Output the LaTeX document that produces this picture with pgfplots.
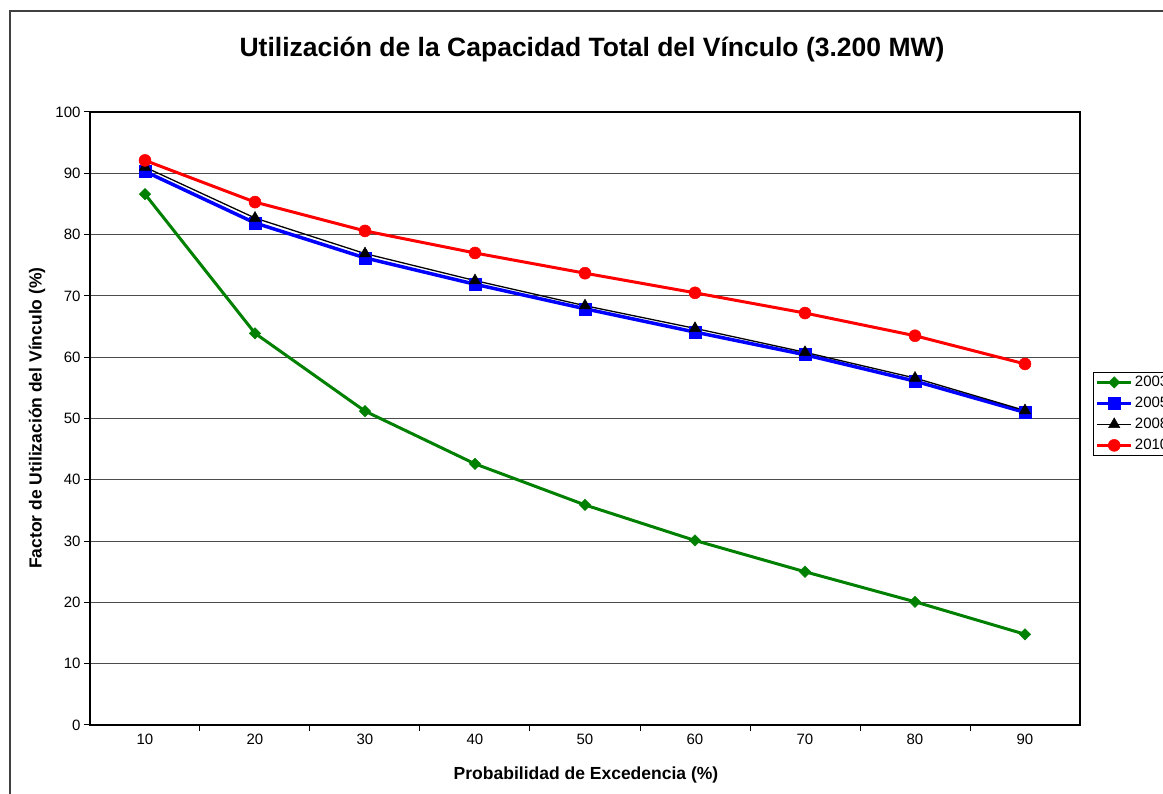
\documentclass[border=0pt]{standalone}
\usepackage{fontspec}
\setmainfont{Liberation Sans}
\usepackage{pgfplots}
\pgfplotsset{compat=1.18}
\definecolor{cgreen}{RGB}{0,128,0}
\definecolor{cblue}{RGB}{0,0,255}
\definecolor{cred}{RGB}{255,0,0}
\begin{document}
\begin{tikzpicture}[x=1pt,y=1pt]
\useasboundingbox (0,0) rectangle (1163,794);
\clip (0,0) rectangle (1163,794);
\fill[white] (0,0) rectangle (1163,794);
\draw[line width=1.5pt, black!75] (10,783) rectangle (1200,-20);
\node[font=\fontsize{26.5}{30}\selectfont\bfseries] at (592,744) {Utilización de la Capacidad Total del Vínculo (3.200 MW)};
\node[font=\fontsize{17.5}{21}\selectfont\bfseries] at (586,19) {Probabilidad de Excedencia (\%)};
\node[font=\fontsize{17.5}{21}\selectfont\bfseries, rotate=90] at (37,376) {Factor de Utilización del Vínculo (\%)};
\begin{axis}[
  at={(90pt,69pt)}, anchor=south west,
  scale only axis, width=990pt, height=613pt,
  xmin=5, xmax=95, ymin=0, ymax=100,
  xtick={10,20,30,40,50,60,70,80,90},
  major x tick style={draw=none},
  minor xtick={15,25,35,45,55,65,75,85},
  ytick={0,10,20,30,40,50,60,70,80,90,100},
  xtick pos=left, ytick pos=left,
  tick align=outside, major tick length=6pt, minor tick length=6pt,
  tick style={line width=1pt, black},
  ymajorgrids, grid style={line width=1pt, black!70},
  axis line style={line width=2.2pt},
  tick label style={font=\fontsize{15}{18}\selectfont},
  /pgf/number format/assume math mode=true,
  legend style={at={(1.0131,0.5759)}, anchor=north west, draw=black, line width=1pt,
    font=\fontsize{15}{18}\selectfont, inner sep=2pt, row sep=5pt, legend cell align=left},
  legend image code/.code={\draw[mark repeat=2,mark phase=2,#1] plot coordinates {(0pt,0pt) (17pt,0pt) (34pt,0pt)};},
]
\addplot[cgreen, line width=3pt, mark=square*, mark size=4pt, mark options={rotate=45, fill=cgreen, draw=cgreen, line width=0.5pt}]
  coordinates {(10,86.6) (20,63.9) (30,51.2) (40,42.6) (50,35.9) (60,30.1) (70,25.0) (80,20.1) (90,14.8)};
\addlegendentry{2003}
\addplot[cblue, line width=3.5pt, mark=square*, mark size=6pt, mark options={fill=cblue, draw=cblue, line width=0.5pt}]
  coordinates {(10,90.3) (20,81.9) (30,76.2) (40,71.9) (50,67.9) (60,64.1) (70,60.4) (80,56.1) (90,51.0)};
\addlegendentry{2005}
\addplot[black, line width=1.3pt, mark=triangle*, mark size=6.5pt, mark options={fill=black, draw=black, line width=0.5pt}]
  coordinates {(10,91.0) (20,82.7) (30,76.9) (40,72.5) (50,68.4) (60,64.7) (70,60.8) (80,56.6) (90,51.3)};
\addlegendentry{2008}
\addplot[cred, line width=3pt, mark=*, mark size=6pt, mark options={fill=cred, draw=cred, line width=0.5pt}]
  coordinates {(10,92.1) (20,85.3) (30,80.6) (40,77.0) (50,73.7) (60,70.5) (70,67.2) (80,63.5) (90,58.9)};
\addlegendentry{2010}
\end{axis}
\end{tikzpicture}
\end{document}
